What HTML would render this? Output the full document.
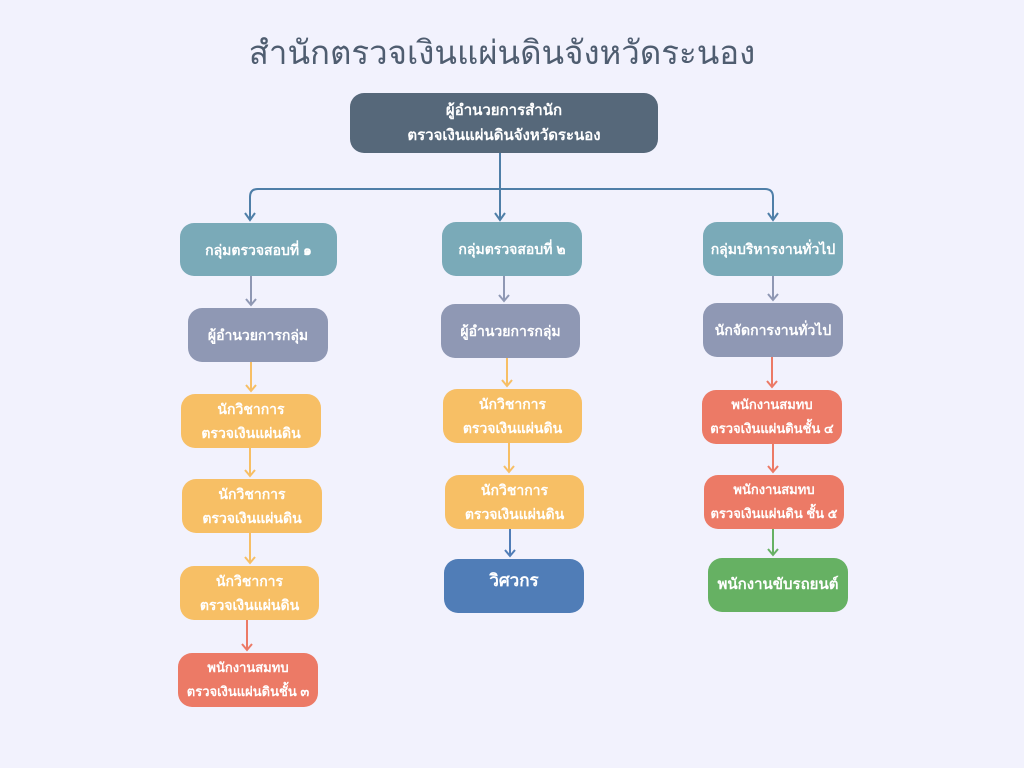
<!DOCTYPE html>
<html><head><meta charset="utf-8"><style>
body{margin:0;width:1024px;height:768px;background:#f2f2fd;font-family:"Liberation Sans","DejaVu Sans",sans-serif;position:relative;overflow:hidden}
.t{position:absolute;left:0;width:1004px;top:26px;text-align:center;font-size:33px;color:#4f5d70}
.b{position:absolute;border-radius:14px;color:#fff;font-weight:bold;font-size:14px;display:flex;align-items:center;justify-content:center;text-align:center;line-height:24px}
.tl{background:#7aaab8}.gr{background:#8f98b4}.or{background:#f7bf65}.rd{background:#ec7a66}
svg{position:absolute;left:0;top:0}
</style></head><body>
<div class="t">สำนักตรวจเงินแผ่นดินจังหวัดระนอง</div>
<svg width="1024" height="768" fill="none" stroke-width="2">
<g stroke="#4f7fa8"><path d="M500 153V218"/><path d="M250 218V197Q250 189 258 189H765Q773 189 773 197V218"/>
<path d="M245 213l5 7 5-7M495 213l5 7 5-7M768 213l5 7 5-7"/></g>
<g stroke="#8f98b4"><path d="M251 276V305M246 299l5 6 5-6"/><path d="M504 276V301M499 295l5 6 5-6"/><path d="M773 276V300M768 294l5 6 5-6"/></g>
<g stroke="#f7bf65"><path d="M251 362V391M246 385l5 6 5-6"/><path d="M250 448V476M245 470l5 6 5-6"/><path d="M250 533V563M245 557l5 6 5-6"/>
<path d="M507 358V386M502 380l5 6 5-6"/><path d="M509 443V472M504 466l5 6 5-6"/></g>
<g stroke="#ec7a66"><path d="M247 620V650M242 644l5 6 5-6"/><path d="M772 357V387M767 381l5 6 5-6"/><path d="M773 444V472M768 466l5 6 5-6"/></g>
<path stroke="#507db7" d="M510 529V556M505 550l5 6 5-6"/>
<path stroke="#66b163" d="M773 529V555M768 549l5 6 5-6"/>
</svg>
<div class="b" style="left:350px;top:93px;width:308px;height:60px;background:#56687a;font-size:15px;line-height:25px">ผู้อำนวยการสำนัก<br>ตรวจเงินแผ่นดินจังหวัดระนอง</div>
<div class="b tl" style="left:180px;top:223px;width:157px;height:53px">กลุ่มตรวจสอบที่ ๑</div>
<div class="b gr" style="left:188px;top:308px;width:140px;height:54px">ผู้อำนวยการกลุ่ม</div>
<div class="b or" style="left:181px;top:394px;width:140px;height:54px">นักวิชาการ<br>ตรวจเงินแผ่นดิน</div>
<div class="b or" style="left:182px;top:479px;width:140px;height:54px">นักวิชาการ<br>ตรวจเงินแผ่นดิน</div>
<div class="b or" style="left:180px;top:566px;width:139px;height:54px">นักวิชาการ<br>ตรวจเงินแผ่นดิน</div>
<div class="b rd" style="left:178px;top:653px;width:140px;height:54px;font-size:13px">พนักงานสมทบ<br>ตรวจเงินแผ่นดินชั้น ๓</div>
<div class="b tl" style="left:442px;top:222px;width:140px;height:54px">กลุ่มตรวจสอบที่ ๒</div>
<div class="b gr" style="left:441px;top:304px;width:139px;height:54px">ผู้อำนวยการกลุ่ม</div>
<div class="b or" style="left:443px;top:389px;width:139px;height:54px">นักวิชาการ<br>ตรวจเงินแผ่นดิน</div>
<div class="b or" style="left:445px;top:475px;width:139px;height:54px">นักวิชาการ<br>ตรวจเงินแผ่นดิน</div>
<div class="b" style="left:444px;top:559px;width:140px;height:54px;background:#507db7;font-size:17px;align-items:flex-start"><span style="margin-top:10px">วิศวกร</span></div>
<div class="b tl" style="left:703px;top:222px;width:140px;height:54px">กลุ่มบริหารงานทั่วไป</div>
<div class="b gr" style="left:703px;top:303px;width:140px;height:54px">นักจัดการงานทั่วไป</div>
<div class="b rd" style="left:702px;top:390px;width:140px;height:54px;font-size:13px">พนักงานสมทบ<br>ตรวจเงินแผ่นดินชั้น ๔</div>
<div class="b rd" style="left:704px;top:475px;width:140px;height:54px;font-size:13px">พนักงานสมทบ<br>ตรวจเงินแผ่นดิน ชั้น ๕</div>
<div class="b" style="left:708px;top:558px;width:140px;height:54px;background:#66b163;font-size:15px">พนักงานขับรถยนต์</div>
</body></html>
